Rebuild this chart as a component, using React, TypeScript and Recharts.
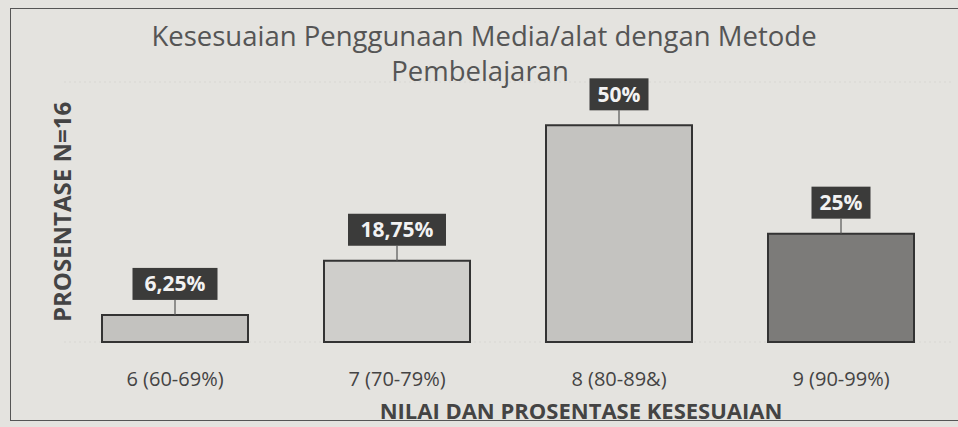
import React from 'react';
import { BarChart, Bar, XAxis, YAxis, CartesianGrid, LabelList, Cell } from 'recharts';

const categories = ['6 (60-69%)', '7 (70-79%)', '8 (80-89&)', '9 (90-99%)'];
const values = [6.25, 18.75, 50, 25];
const valueLabels = ['6,25%', '18,75%', '50%', '25%'];
const barColors = ['#c3c2bf', '#cfcecb', '#c4c3c0', '#7c7b79'];
const yTicks = [0, 10, 20, 30, 40, 50, 60];

const data = categories.map((c, i) => ({ name: c, value: values[i], label: valueLabels[i] }));

const FONT = '"Open Sans", "Noto Sans", sans-serif';

const ValueBox = (props: any) => {
  const { x, y, width, index } = props;
  const text = valueLabels[index];
  const cx = x + width / 2;
  const gap = 15;
  const h = 32;
  const w = text.length * 13 + 20;
  return (
    <g>
      <line x1={cx} y1={y - gap} x2={cx} y2={y} stroke="#555" strokeWidth={1.2} />
      <rect x={cx - w / 2} y={y - gap - h} width={w} height={h} fill="#3b3b3a" />
      <text x={cx} y={y - gap - h / 2 + 7.5} textAnchor="middle" fill="#f2f2f2" fontFamily={FONT} fontWeight={700} fontSize={21}>
        {text}
      </text>
    </g>
  );
};

const CatTick = (props: any) => {
  const { x, y, payload } = props;
  return (
    <text x={x} y={y + 44} textAnchor="middle" fill="#444" fontFamily={FONT} fontSize={20}>
      {payload.value}
    </text>
  );
};

export default function App() {
  return (
    <div style={{ position: 'absolute', left: 0, top: 0, width: 958, height: 427, background: '#e4e3df', overflow: 'hidden' }}>
      <div style={{ position: 'absolute', left: 10, top: 8, width: 960, height: 413, border: '1.5px solid #555', boxSizing: 'border-box' }} />
      <div style={{ position: 'absolute', left: 0, top: 17, width: 968, textAlign: 'center', fontFamily: FONT, fontSize: 27.5, color: '#555', lineHeight: '38px' }}>
        Kesesuaian Penggunaan Media/alat dengan Metode
      </div>
      <div style={{ position: 'absolute', left: 0, top: 52, width: 960, textAlign: 'center', fontFamily: FONT, fontSize: 27.5, color: '#555', lineHeight: '38px' }}>
        Pembelajaran
      </div>
      <div style={{ position: 'absolute', left: 0, top: 0 }}>
        <BarChart width={958} height={427} data={data} margin={{ top: 82, right: 6, bottom: 25, left: 0 }} barCategoryGap={0}>
          <CartesianGrid vertical={false} stroke="#d8d7d3" strokeDasharray="2 3" />
          <XAxis
            dataKey="name"
            height={60}
            axisLine={false}
            tickLine={false}
            tickSize={0}
            tickMargin={0}
            tick={<CatTick />}
            interval={0}
            label={{ value: 'NILAI DAN PROSENTASE KESESUAIAN', position: 'insideBottom', offset: -17, dx: 73, fill: '#444', fontFamily: FONT, fontWeight: 700, fontSize: 22 }}
          />
          <YAxis
            domain={[0, 60]}
            ticks={yTicks}
            width={64}
            tick={false}
            axisLine={false}
            tickLine={false}
            label={{ value: 'PROSENTASE N=16', angle: -90, position: 'center', dx: 30, dy: 0, fill: '#444', fontFamily: FONT, fontWeight: 700, fontSize: 24 }}
          />
          <Bar dataKey="value" barSize={146} stroke="#333" strokeWidth={2} isAnimationActive={false}>
            {data.map((d, i) => (
              <Cell key={d.name} fill={barColors[i]} />
            ))}
            <LabelList dataKey="value" content={<ValueBox />} />
          </Bar>
        </BarChart>
      </div>
    </div>
  );
}
